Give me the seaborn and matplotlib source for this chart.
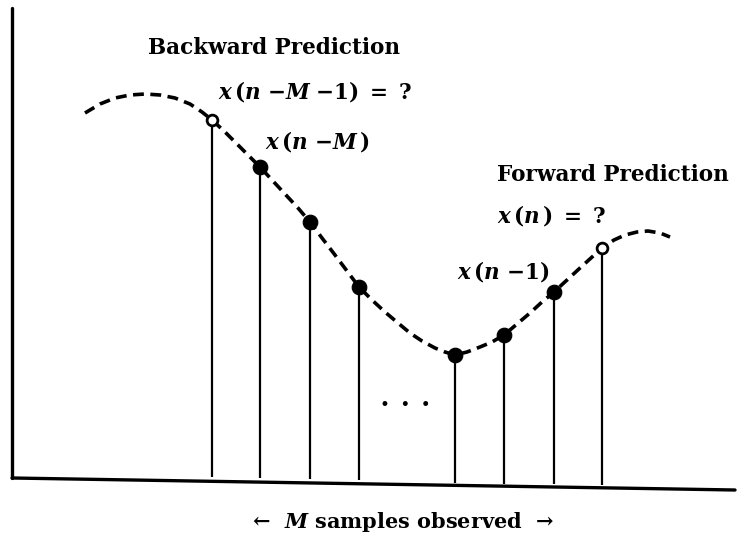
import numpy as np
import pandas as pd
import matplotlib
matplotlib.use("Agg")
import matplotlib.pyplot as plt
import seaborn as sns

# curve (pixel-like units, y grows downward)
curve_x = [85, 100, 115, 130, 145, 160, 175, 190, 202, 212, 224, 236, 248, 260, 272, 285,
           298, 310, 322, 335, 347, 359, 372, 385, 398, 410, 422, 435, 445, 455, 467, 480,
           492, 504, 517, 530, 542, 554, 567, 580, 591, 602, 614, 625, 637, 648, 660, 670]
curve_y = [113, 104, 98, 95, 94, 95, 98, 104, 112, 120, 131, 143, 155, 167, 180, 194,
           208, 222, 238, 255, 271, 287, 300, 312, 323, 333, 341, 348, 352, 355, 352, 347,
           342, 335, 324, 313, 302, 292, 280, 268, 258, 248, 240, 235, 232, 231, 233, 237]

# samples
sample_x = [212, 260, 310, 359, 455, 504, 554, 602]
sample_y = [120, 167, 222, 287, 355, 335, 292, 248]
sample_base = [477, 478, 479, 480, 483, 484, 484, 485]
sample_kind = ["open", "filled", "filled", "filled", "filled", "filled", "filled", "open"]

df_curve = pd.DataFrame({"x": curve_x, "y": curve_y})
df_pts = pd.DataFrame({"x": sample_x, "y": sample_y, "base": sample_base, "kind": sample_kind})

sns.set_theme(style="white")
plt.rcParams["font.family"] = ["DejaVu Serif"]
plt.rcParams["mathtext.fontset"] = "dejavuserif"

fig = plt.figure(figsize=(7.39, 5.59), dpi=100)
ax = fig.add_axes([0, 0, 1, 1])
ax.set_xlim(0, 739)
ax.set_ylim(559, 0)
ax.axis("off")

# axes drawn by hand like the sketch
ax.plot([12, 12], [8, 478], color="black", lw=2.4, solid_capstyle="round")
ax.plot([12, 735], [478, 490], color="black", lw=2.4, solid_capstyle="round")

# stems
ax.vlines(df_pts["x"], df_pts["y"], df_pts["base"], color="black", lw=1.6)

# dashed curve
sns.lineplot(data=df_curve, x="x", y="y", ax=ax, color="black", lw=2.6,
             sort=False, estimator=None, linestyle=(0, (3, 1.8)))

filled = df_pts[df_pts["kind"] == "filled"]
opened = df_pts[df_pts["kind"] == "open"]
sns.scatterplot(data=filled, x="x", y="y", ax=ax, color="black", s=110,
                edgecolor="black", zorder=5)
sns.scatterplot(data=opened, x="x", y="y", ax=ax, color="white", s=60,
                edgecolor="black", linewidth=2, zorder=5)
ax.set_xlim(0, 739)
ax.set_ylim(559, 0)

tkw = dict(color="black", fontsize=15.5, fontweight="bold", va="center", ha="left")
mkw = dict(color="black", fontsize=15.5, va="center", ha="left")
ax.text(148, 48, "Backward Prediction", **tkw)
ax.text(497, 175, "Forward Prediction", **tkw)
ax.text(218, 92, r"$\mathbfit{x}\,\mathbf{(}\mathbfit{n}\ \mathbf{-}\mathbfit{M}\ \mathbf{-1)\ =\ ?}$", **mkw)
ax.text(265, 142, r"$\mathbfit{x}\,\mathbf{(}\mathbfit{n}\ \mathbf{-}\mathbfit{M}\,\mathbf{)}$", **mkw)
ax.text(497, 216, r"$\mathbfit{x}\,\mathbf{(}\mathbfit{n}\,\mathbf{)\ =\ ?}$", **mkw)
ax.text(457, 271, r"$\mathbfit{x}\,\mathbf{(}\mathbfit{n}\ \mathbf{-1)}$", **mkw)
ax.text(405, 405, "•  •  •", color="black", fontsize=12, ha="center", va="center")
ax.text(403, 522, r"←  $\mathbfit{M}$ samples observed  →", color="black",
        fontsize=15, fontweight="bold", ha="center", va="center")

fig.savefig("out.png", dpi=100)
